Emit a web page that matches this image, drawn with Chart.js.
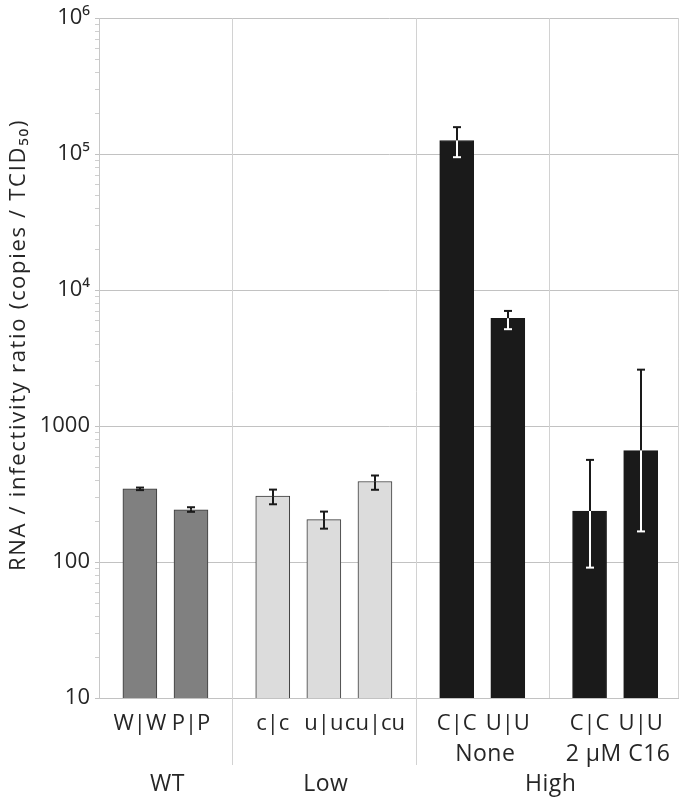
<!DOCTYPE html>
<html>
<head>
<meta charset="utf-8">
<script src="https://cdn.jsdelivr.net/npm/chart.js@4"></script>
<style>
  body { margin: 0; background: #fff; }
</style>
</head>
<body>
<canvas id="grafico" width="683" height="800"></canvas>
<script>
// datos
const etiquetas = ['W|W', 'P|P', 'c|c', 'u|u', 'cu|cu', 'C|C', 'U|U', 'C|C', 'U|U'];
const subgrupoDe = [0, 0, 1, 1, 1, 2, 2, 3, 3];
const subgrupos = ['', '', 'None', '2 µM C16'];
const grupoDe = [0, 1, 2, 2];            // subgrupo -> grupo principal
const grupos = ['WT', 'Low', 'High'];
const valores = [345, 242, 305, 205, 391, 126000, 6200, 237, 660];
const errBajo = [338, 234, 266, 176, 340, 95000, 5160, 91, 168];
const errAlto = [353, 253, 341, 235, 433, 158000, 7030, 564, 2600];
const marcasY = [10, 100, 1000, 10000, 100000, 1000000];
const textosY = ['10', '100', '1000', '10⁴', '10⁵', '10⁶'];
const tituloY = 'RNA / infectivity ratio (copies / TCID₅₀)';

// estilos
const colorGrupo = ['#808080', '#dcdcdc', '#1a1a1a'];
const bordeGrupo = ['#3a3a3a', '#3a3a3a', '#1a1a1a'];
const errDentro = ['#1a1a1a', '#1a1a1a', '#ffffff'];
const texto = '#262626';
const fuente = '"Open Sans", Lato, sans-serif';

// posiciones en x: una unidad por barra, hueco entre subgrupos
const posiciones = [];
const limites = [];
let x = 0;
subgrupoDe.forEach((g, i) => {
  if (i === 0) x = 0.8;
  else if (g !== subgrupoDe[i - 1]) { limites.push({ x: x + 0.8, grupo: grupoDe[g] !== grupoDe[subgrupoDe[i - 1]] }); x += 1.6; }
  else x += 1;
  posiciones.push(x);
});
const maxX = x + 0.75;

function grupoBarra(i) { return grupoDe[subgrupoDe[i]]; }

const dibujo = {
  id: 'dibujo',
  beforeDatasetsDraw(chart) {
    const { ctx, chartArea: a, scales: { x: xs, y: ys } } = chart;
    ctx.save();
    // marcas menores del eje log
    ctx.strokeStyle = '#cfcfcf';
    ctx.lineWidth = 1;
    for (let d = 10; d < 1e6; d *= 10) {
      for (let k = 2; k <= 9; k++) {
        const py = Math.round(ys.getPixelForValue(d * k)) + 0.5;
        ctx.beginPath(); ctx.moveTo(a.left - 4, py); ctx.lineTo(a.left, py); ctx.stroke();
      }
    }
    // lineas verticales entre grupos
    ctx.strokeStyle = '#d2d2d2';
    limites.forEach(l => {
      const px = Math.round(xs.getPixelForValue(l.x)) + 0.5;
      ctx.beginPath(); ctx.moveTo(px, a.top); ctx.lineTo(px, l.grupo ? 765 : a.bottom); ctx.stroke();
    });
    const pr = Math.round(a.right) - 0.5;
    ctx.beginPath(); ctx.moveTo(pr, a.top); ctx.lineTo(pr, a.bottom); ctx.stroke();
    ctx.restore();
  },
  afterDatasetsDraw(chart) {
    const { ctx, scales: { y: ys } } = chart;
    const meta = chart.getDatasetMeta(0);
    ctx.save();
    ctx.lineWidth = 2;
    meta.data.forEach((barra, i) => {
      const cx = Math.round(barra.x);
      const top = barra.y;
      const pAlto = ys.getPixelForValue(errAlto[i]);
      const pBajo = ys.getPixelForValue(errBajo[i]);
      const dentro = errDentro[grupoBarra(i)];
      const tramo = (y1, y2, color) => {
        if (y2 <= y1) return;
        ctx.strokeStyle = color;
        ctx.beginPath(); ctx.moveTo(cx, y1); ctx.lineTo(cx, y2); ctx.stroke();
      };
      tramo(pAlto, Math.min(top, pBajo), '#1a1a1a');
      tramo(Math.max(top, pAlto), pBajo, dentro);
      const tapa = (py) => {
        ctx.strokeStyle = py < top ? '#1a1a1a' : dentro;
        ctx.beginPath(); ctx.moveTo(cx - 4, py); ctx.lineTo(cx + 4, py); ctx.stroke();
      };
      tapa(pAlto);
      tapa(pBajo);
    });
    ctx.restore();
  },
  afterDraw(chart) {
    const { ctx, scales: { x: xs } } = chart;
    ctx.save();
    ctx.fillStyle = texto;
    ctx.textAlign = 'center';
    ctx.textBaseline = 'middle';
    ctx.font = '22px ' + fuente;
    etiquetas.forEach((e, i) => ctx.fillText(e, xs.getPixelForValue(posiciones[i]), 724));
    ctx.font = '23px ' + fuente;
    ctx.letterSpacing = '0.5px';
    const media = (idx) => idx.reduce((s, i) => s + xs.getPixelForValue(posiciones[i]), 0) / idx.length;
    subgrupos.forEach((s, g) => {
      if (!s) return;
      const idx = subgrupoDe.map((v, i) => v === g ? i : -1).filter(i => i >= 0);
      ctx.fillText(s, media(idx) + 3, 754);
    });
    grupos.forEach((s, g) => {
      const idx = subgrupoDe.map((v, i) => grupoDe[v] === g ? i : -1).filter(i => i >= 0);
      ctx.fillText(s, media(idx) + 2, 784);
    });
    // titulo del eje y
    ctx.translate(19, 345);
    ctx.rotate(-Math.PI / 2);
    ctx.font = '22px ' + fuente;
    ctx.letterSpacing = '1.7px';
    ctx.fillText(tituloY, 0, 0);
    ctx.restore();
  }
};

new Chart(document.getElementById('grafico'), {
  type: 'bar',
  data: {
    datasets: [{
      data: posiciones.map((px, i) => ({ x: px, y: valores[i] })),
      backgroundColor: valores.map((v, i) => colorGrupo[grupoBarra(i)]),
      borderColor: valores.map((v, i) => bordeGrupo[grupoBarra(i)]),
      borderWidth: 1,
      barThickness: 34
    }]
  },
  options: {
    responsive: false,
    animation: false,
    layout: { padding: { top: 17, right: 4, left: 0, bottom: 0 } },
    plugins: { legend: { display: false }, tooltip: { enabled: false } },
    scales: {
      x: {
        type: 'linear', min: 0, max: maxX, offset: false,
        ticks: { display: false },
        grid: { display: false, offset: false },
        border: { display: false },
        afterFit: s => { s.height = 102; }
      },
      y: {
        type: 'logarithmic', min: 10, max: 1e6,
        afterBuildTicks: s => { s.ticks = marcasY.map(v => ({ value: v })); },
        ticks: {
          callback: v => textosY[marcasY.indexOf(v)],
          font: { family: fuente, size: 22 },
          color: texto,
          padding: 5
        },
        grid: { color: '#c2c2c2', tickLength: 4 },
        border: { color: '#c8c8c8' },
        title: { display: false },
        afterFit: s => { s.width = 99; }
      }
    }
  },
  plugins: [dibujo]
});
</script>
</body>
</html>
